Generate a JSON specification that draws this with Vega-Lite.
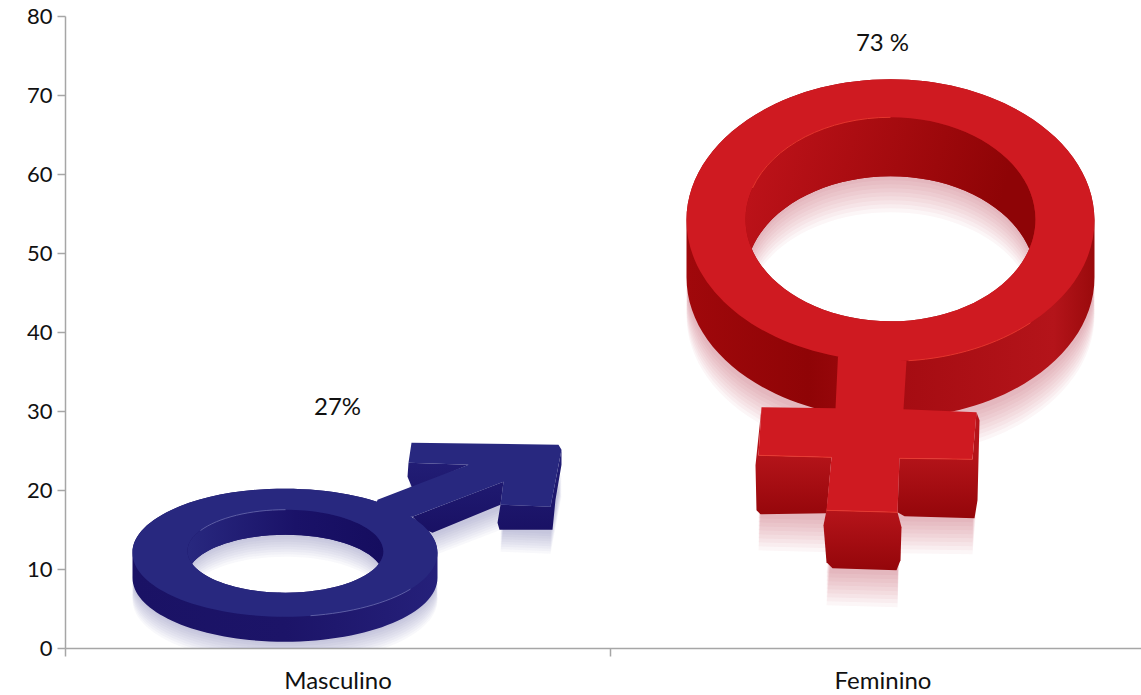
{"$schema":"https://vega.github.io/schema/vega-lite/v6.json","width":1076,"height":632,"autosize":{"type":"none"},"padding":{"left":65,"top":16,"right":0,"bottom":47},"background":"white","config":{"view":{"stroke":null},"font":"Lato"},"data":{"values":[{"genero":"Masculino","valor":27,"etiqueta":"27%"},{"genero":"Feminino","valor":73,"etiqueta":"73 %"}]},"encoding":{"x":{"field":"genero","type":"nominal","title":null,"scale":{"domain":["Masculino","Feminino"],"range":[0,1090],"paddingInner":0,"paddingOuter":0},"axis":{"labelAngle":0,"labelFont":"Lato","labelFontSize":24,"labelColor":"#111111","labelPadding":13,"tickBand":"extent","tickSize":8,"tickColor":"#a6a6a6","tickWidth":1.5,"domainColor":"#a6a6a6","domainWidth":1.5,"grid":false}},"y":{"field":"valor","type":"quantitative","title":null,"scale":{"domain":[0,80],"nice":false},"axis":{"values":[0,10,20,30,40,50,60,70,80],"labelFont":"Lato","labelFontSize":22,"labelColor":"#111111","labelPadding":5,"tickSize":8,"tickColor":"#a6a6a6","tickWidth":1.5,"domainColor":"#a6a6a6","domainWidth":1.5,"grid":false}}},"layer":[
{"transform":[{"filter":"datum.genero=='Masculino'"}],"layer":[
{"mark":{"type":"point","clip":true,"filled":true,"size":4,"opacity":0.04,"fill":"#4a4a9a","strokeOpacity":0,"yOffset":27,"shape":"M-205 118 A152.5 64 0 1 1 100 118 A152.5 64 0 1 1 -205 118 Z M-150 116.5 A98 41.5 0 1 0 46 116.5 A98 41.5 0 1 0 -150 116.5 Z M40 65 L131 30 L71 28 L74 8 L221 10 L224 15 L213 72 L163 70 L166 47 L75 82 L35 85 Z"}},
{"mark":{"type":"point","clip":true,"filled":true,"size":4,"opacity":0.04,"fill":"#4a4a9a","strokeOpacity":0,"yOffset":29.5,"shape":"M-205 118 A152.5 64 0 1 1 100 118 A152.5 64 0 1 1 -205 118 Z M-150 116.5 A98 41.5 0 1 0 46 116.5 A98 41.5 0 1 0 -150 116.5 Z M40 65 L131 30 L71 28 L74 8 L221 10 L224 15 L213 72 L163 70 L166 47 L75 82 L35 85 Z"}},
{"mark":{"type":"point","clip":true,"filled":true,"size":4,"opacity":0.04,"fill":"#4a4a9a","strokeOpacity":0,"yOffset":32,"shape":"M-205 118 A152.5 64 0 1 1 100 118 A152.5 64 0 1 1 -205 118 Z M-150 116.5 A98 41.5 0 1 0 46 116.5 A98 41.5 0 1 0 -150 116.5 Z M40 65 L131 30 L71 28 L74 8 L221 10 L224 15 L213 72 L163 70 L166 47 L75 82 L35 85 Z"}},
{"mark":{"type":"point","clip":true,"filled":true,"size":4,"opacity":0.04,"fill":"#4a4a9a","strokeOpacity":0,"yOffset":34.5,"shape":"M-205 118 A152.5 64 0 1 1 100 118 A152.5 64 0 1 1 -205 118 Z M-150 116.5 A98 41.5 0 1 0 46 116.5 A98 41.5 0 1 0 -150 116.5 Z M40 65 L131 30 L71 28 L74 8 L221 10 L224 15 L213 72 L163 70 L166 47 L75 82 L35 85 Z"}},
{"mark":{"type":"point","clip":true,"filled":true,"size":4,"opacity":0.04,"fill":"#4a4a9a","strokeOpacity":0,"yOffset":37,"shape":"M-205 118 A152.5 64 0 1 1 100 118 A152.5 64 0 1 1 -205 118 Z M-150 116.5 A98 41.5 0 1 0 46 116.5 A98 41.5 0 1 0 -150 116.5 Z M40 65 L131 30 L71 28 L74 8 L221 10 L224 15 L213 72 L163 70 L166 47 L75 82 L35 85 Z"}},
{"mark":{"type":"point","clip":true,"filled":true,"size":4,"opacity":0.04,"fill":"#4a4a9a","strokeOpacity":0,"yOffset":39.5,"shape":"M-205 118 A152.5 64 0 1 1 100 118 A152.5 64 0 1 1 -205 118 Z M-150 116.5 A98 41.5 0 1 0 46 116.5 A98 41.5 0 1 0 -150 116.5 Z M40 65 L131 30 L71 28 L74 8 L221 10 L224 15 L213 72 L163 70 L166 47 L75 82 L35 85 Z"}},
{"mark":{"type":"point","clip":true,"filled":true,"size":4,"opacity":0.04,"fill":"#4a4a9a","strokeOpacity":0,"yOffset":42,"shape":"M-205 118 A152.5 64 0 1 1 100 118 A152.5 64 0 1 1 -205 118 Z M-150 116.5 A98 41.5 0 1 0 46 116.5 A98 41.5 0 1 0 -150 116.5 Z M40 65 L131 30 L71 28 L74 8 L221 10 L224 15 L213 72 L163 70 L166 47 L75 82 L35 85 Z"}},
{"mark":{"type":"point","clip":true,"filled":true,"size":4,"opacity":0.04,"fill":"#4a4a9a","strokeOpacity":0,"yOffset":44.5,"shape":"M-205 118 A152.5 64 0 1 1 100 118 A152.5 64 0 1 1 -205 118 Z M-150 116.5 A98 41.5 0 1 0 46 116.5 A98 41.5 0 1 0 -150 116.5 Z M40 65 L131 30 L71 28 L74 8 L221 10 L224 15 L213 72 L163 70 L166 47 L75 82 L35 85 Z"}},
{"mark":{"type":"point","clip":true,"filled":true,"size":4,"opacity":0.04,"fill":"#4a4a9a","strokeOpacity":0,"yOffset":47,"shape":"M-205 118 A152.5 64 0 1 1 100 118 A152.5 64 0 1 1 -205 118 Z M-150 116.5 A98 41.5 0 1 0 46 116.5 A98 41.5 0 1 0 -150 116.5 Z M40 65 L131 30 L71 28 L74 8 L221 10 L224 15 L213 72 L163 70 L166 47 L75 82 L35 85 Z"}},
{"mark":{"type":"point","filled":true,"size":4,"opacity":1,"strokeOpacity":0,"fill":{"gradient":"linear","x1":0,"y1":0,"x2":1,"y2":0,"stops":[{"offset":0,"color":"#1a1265"},{"offset":0.5,"color":"#1c1468"},{"offset":1,"color":"#25207a"}]},"shape":"M-205 118 L-205 143 A152.5 64 0 0 0 100 143 L100 118 A152.5 64 0 0 0 -205 118 Z M-145.4 129 A98 41.5 0 0 1 41.4 129 A98 41.5 0 0 1 -145.4 129 Z"}},
{"mark":{"type":"point","filled":true,"size":4,"opacity":1,"strokeOpacity":0,"fill":{"gradient":"linear","x1":0,"y1":0,"x2":1,"y2":0,"stops":[{"offset":0,"color":"#28287f"},{"offset":0.55,"color":"#1a1268"},{"offset":1,"color":"#150d5f"}]},"shape":"M-150 116.5 A98 41.5 0 1 1 46 116.5 A98 41.5 0 1 1 -150 116.5 Z M-145.4 129 A98 41.5 0 0 0 41.4 129 A98 41.5 0 0 0 -145.4 129 Z"}},
{"mark":{"type":"point","filled":true,"size":4,"opacity":1,"strokeOpacity":0,"fill":{"gradient":"linear","x1":0,"y1":0,"x2":0,"y2":1,"stops":[{"offset":0,"color":"#231f78"},{"offset":1,"color":"#191164"}]},"shape":"M71 28 L131 30 L75 54 L70 42 Z M75 82 L166 47 L163 70 L95 98 L88 95 Z M163 70 L213 72 L224 15 L224 30 L218 65 L215 95 L162 95 L160 88 Z"}},
{"mark":{"type":"point","filled":true,"size":4,"opacity":1,"strokeOpacity":0,"fill":"#28287f","shape":"M-205 118 A152.5 64 0 1 1 100 118 A152.5 64 0 1 1 -205 118 Z M-150 116.5 A98 41.5 0 1 0 46 116.5 A98 41.5 0 1 0 -150 116.5 Z M40 65 L131 30 L71 28 L74 8 L221 10 L224 15 L213 72 L163 70 L166 47 L75 82 L35 85 Z"}},
{"mark":{"type":"point","filled":false,"size":4,"opacity":0.7,"stroke":"#7577b8","strokeWidth":1,"shape":"M-137 95.8 A98 41.5 0 0 1 -52 75 M-27 181 A152.5 64 0 0 0 73 154.4"}}
]},
{"transform":[{"filter":"datum.genero=='Feminino'"}],"layer":[
{"mark":{"type":"point","filled":true,"size":4,"opacity":0.04,"fill":"#b0202a","strokeOpacity":0,"yOffset":63,"shape":"M-196 149 A204 141 0 1 1 212 149 A204 141 0 1 1 -196 149 Z M-137 148 A145 102 0 1 0 153 148 A145 102 0 1 0 -137 148 Z M-44 274 L25 274 L21 338 L94 341 L90 388 L17 387 L15 441 L-56 439 L-51 386 L-124 384 L-121 336 L-47 337 Z"}},
{"mark":{"type":"point","filled":true,"size":4,"opacity":0.04,"fill":"#b0202a","strokeOpacity":0,"yOffset":67,"shape":"M-196 149 A204 141 0 1 1 212 149 A204 141 0 1 1 -196 149 Z M-137 148 A145 102 0 1 0 153 148 A145 102 0 1 0 -137 148 Z M-44 274 L25 274 L21 338 L94 341 L90 388 L17 387 L15 441 L-56 439 L-51 386 L-124 384 L-121 336 L-47 337 Z"}},
{"mark":{"type":"point","filled":true,"size":4,"opacity":0.04,"fill":"#b0202a","strokeOpacity":0,"yOffset":71,"shape":"M-196 149 A204 141 0 1 1 212 149 A204 141 0 1 1 -196 149 Z M-137 148 A145 102 0 1 0 153 148 A145 102 0 1 0 -137 148 Z M-44 274 L25 274 L21 338 L94 341 L90 388 L17 387 L15 441 L-56 439 L-51 386 L-124 384 L-121 336 L-47 337 Z"}},
{"mark":{"type":"point","filled":true,"size":4,"opacity":0.04,"fill":"#b0202a","strokeOpacity":0,"yOffset":75,"shape":"M-196 149 A204 141 0 1 1 212 149 A204 141 0 1 1 -196 149 Z M-137 148 A145 102 0 1 0 153 148 A145 102 0 1 0 -137 148 Z M-44 274 L25 274 L21 338 L94 341 L90 388 L17 387 L15 441 L-56 439 L-51 386 L-124 384 L-121 336 L-47 337 Z"}},
{"mark":{"type":"point","filled":true,"size":4,"opacity":0.04,"fill":"#b0202a","strokeOpacity":0,"yOffset":79,"shape":"M-196 149 A204 141 0 1 1 212 149 A204 141 0 1 1 -196 149 Z M-137 148 A145 102 0 1 0 153 148 A145 102 0 1 0 -137 148 Z M-44 274 L25 274 L21 338 L94 341 L90 388 L17 387 L15 441 L-56 439 L-51 386 L-124 384 L-121 336 L-47 337 Z"}},
{"mark":{"type":"point","filled":true,"size":4,"opacity":0.04,"fill":"#b0202a","strokeOpacity":0,"yOffset":83,"shape":"M-196 149 A204 141 0 1 1 212 149 A204 141 0 1 1 -196 149 Z M-137 148 A145 102 0 1 0 153 148 A145 102 0 1 0 -137 148 Z M-44 274 L25 274 L21 338 L94 341 L90 388 L17 387 L15 441 L-56 439 L-51 386 L-124 384 L-121 336 L-47 337 Z"}},
{"mark":{"type":"point","filled":true,"size":4,"opacity":0.04,"fill":"#b0202a","strokeOpacity":0,"yOffset":87,"shape":"M-196 149 A204 141 0 1 1 212 149 A204 141 0 1 1 -196 149 Z M-137 148 A145 102 0 1 0 153 148 A145 102 0 1 0 -137 148 Z M-44 274 L25 274 L21 338 L94 341 L90 388 L17 387 L15 441 L-56 439 L-51 386 L-124 384 L-121 336 L-47 337 Z"}},
{"mark":{"type":"point","filled":true,"size":4,"opacity":0.04,"fill":"#b0202a","strokeOpacity":0,"yOffset":91,"shape":"M-196 149 A204 141 0 1 1 212 149 A204 141 0 1 1 -196 149 Z M-137 148 A145 102 0 1 0 153 148 A145 102 0 1 0 -137 148 Z M-44 274 L25 274 L21 338 L94 341 L90 388 L17 387 L15 441 L-56 439 L-51 386 L-124 384 L-121 336 L-47 337 Z"}},
{"mark":{"type":"point","filled":true,"size":4,"opacity":0.04,"fill":"#b0202a","strokeOpacity":0,"yOffset":95,"shape":"M-196 149 A204 141 0 1 1 212 149 A204 141 0 1 1 -196 149 Z M-137 148 A145 102 0 1 0 153 148 A145 102 0 1 0 -137 148 Z M-44 274 L25 274 L21 338 L94 341 L90 388 L17 387 L15 441 L-56 439 L-51 386 L-124 384 L-121 336 L-47 337 Z"}},
{"mark":{"type":"point","filled":true,"size":4,"opacity":1,"strokeOpacity":0,"fill":{"gradient":"linear","x1":0,"y1":0,"x2":1,"y2":0,"stops":[{"offset":0,"color":"#a0080b"},{"offset":0.3,"color":"#8f0406"},{"offset":0.52,"color":"#a50c12"},{"offset":0.9,"color":"#b4141a"},{"offset":1,"color":"#9a0a0c"}]},"shape":"M-196 149 L-196 206 A204 141 0 0 0 212 206 L212 149 A204 141 0 0 0 -196 149 Z M-130.8 177.5 A145 102 0 0 1 146.8 177.5 A145 102 0 0 1 -130.8 177.5 Z"}},
{"mark":{"type":"point","filled":true,"size":4,"opacity":1,"strokeOpacity":0,"fill":{"gradient":"linear","x1":0,"y1":0.4,"x2":1,"y2":0.6,"stops":[{"offset":0,"color":"#bc1219"},{"offset":0.6,"color":"#9c080b"},{"offset":0.85,"color":"#8e0406"},{"offset":1,"color":"#8e0406"}]},"shape":"M-137 148 A145 102 0 1 1 153 148 A145 102 0 1 1 -137 148 Z M-130.8 177.5 A145 102 0 0 0 146.8 177.5 A145 102 0 0 0 -130.8 177.5 Z"}},
{"mark":{"type":"point","filled":true,"size":4,"opacity":1,"strokeOpacity":0,"fill":{"gradient":"linear","x1":0,"y1":0,"x2":0,"y2":1,"stops":[{"offset":0,"color":"#b5141a"},{"offset":0.42,"color":"#b5141a"},{"offset":1,"color":"#94060a"}]},"shape":"M-121 336 L-124 384 L-51 386 L-56 442 L-122 443 L-126 439 L-127 394 Z M94 341 L97 349 L95 429 L92 447 L22 445 L15 441 L17 387 L90 388 Z"}},
{"mark":{"type":"point","filled":true,"size":4,"opacity":1,"strokeOpacity":0,"fill":{"gradient":"linear","x1":0,"y1":0,"x2":0,"y2":1,"stops":[{"offset":0,"color":"#b5141a"},{"offset":1,"color":"#94060a"}]},"shape":"M-56 439 L15 441 L19 456 L18 489 L14 499 L-50 497 L-56 491 L-59 454 Z"}},
{"mark":{"type":"point","filled":true,"size":4,"opacity":1,"strokeOpacity":0,"fill":"#cf1a21","shape":"M-196 149 A204 141 0 1 1 212 149 A204 141 0 1 1 -196 149 Z M-137 148 A145 102 0 1 0 153 148 A145 102 0 1 0 -137 148 Z M-44 274 L25 274 L21 338 L94 341 L90 388 L17 387 L15 441 L-56 439 L-51 386 L-124 384 L-121 336 L-47 337 Z"}},
{"mark":{"type":"point","filled":false,"size":4,"opacity":0.9,"stroke":"#ea3a30","strokeWidth":1,"shape":"M-130 116.7 A145 102 0 0 1 8 46 M26 289.4 A204 141 0 0 0 148 251.5 M-124 384 L-51 386 M17 387 L90 388 M-56 439 L15 441"}}
]},
{"mark":{"type":"text","font":"Lato","fontSize":24,"color":"#111111","dy":-27,"baseline":"middle","align":"center"},"encoding":{"text":{"field":"etiqueta","type":"nominal"}}}
]}
